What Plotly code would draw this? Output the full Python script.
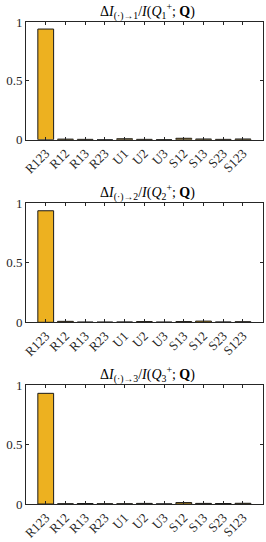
import plotly.graph_objects as go

labels1 = ["R123", "R12", "R13", "R23", "U1", "U2", "U3", "S12", "S13", "S23", "S123"]
values1 = [0.94, 0.005, 0.003, 0.0, 0.008, 0.003, 0.001, 0.012, 0.006, 0.003, 0.006]

labels2 = ["R123", "R12", "R13", "R23", "U1", "U2", "U3", "S13", "S12", "S23", "S123"]
values2 = [0.935, 0.008, 0.002, 0.002, 0.003, 0.006, 0.002, 0.006, 0.010, 0.003, 0.005]

labels3 = ["R123", "R12", "R13", "R23", "U1", "U2", "U3", "S12", "S13", "S23", "S123"]
values3 = [0.93, 0.002, 0.004, 0.002, 0.002, 0.005, 0.001, 0.012, 0.005, 0.004, 0.006]

titles = [
    "Δ<i>I</i><sub>(·)→1</sub>/<i>I</i>(<i>Q</i><sub>1</sub><sup>+</sup>; <b>Q</b>)",
    "Δ<i>I</i><sub>(·)→2</sub>/<i>I</i>(<i>Q</i><sub>2</sub><sup>+</sup>; <b>Q</b>)",
    "Δ<i>I</i><sub>(·)→3</sub>/<i>I</i>(<i>Q</i><sub>3</sub><sup>+</sup>; <b>Q</b>)",
]

W, H = 266, 542
xd = [26 / W, 262.7 / W]
ydoms = [(22, 139.7), (203, 322.3), (385, 504)]

FONT = "Liberation Serif"
AX = "#262626"

fig = go.Figure()
panels = [(labels1, values1), (labels2, values2), (labels3, values3)]
for i, (lab, val) in enumerate(panels):
    n = i + 1
    xa = "x" if n == 1 else f"x{n}"
    ya = "y" if n == 1 else f"y{n}"
    cats = list(range(len(lab)))
    fig.add_trace(go.Bar(
        x=cats, y=val, xaxis=xa, yaxis=ya, width=0.8,
        marker=dict(color="#EDB120", line=dict(color="#1a1a1a", width=1)),
        showlegend=False, hoverinfo="skip",
    ))
    top, bot = ydoms[i]
    xkey = "xaxis" if n == 1 else f"xaxis{n}"
    ykey = "yaxis" if n == 1 else f"yaxis{n}"
    fig.layout[xkey] = dict(
        domain=xd, anchor=ya, range=[-1, 11], automargin=False,
        tickmode="array", tickvals=cats, ticktext=lab, tickangle=-45,
        ticks="inside", ticklen=3, tickcolor=AX,
        showline=True, linecolor=AX, linewidth=1, mirror="ticks",
        showgrid=False, zeroline=False,
        tickfont=dict(family=FONT, size=13, color="#262626"),
    )
    fig.layout[ykey] = dict(
        domain=[1 - bot / H, 1 - top / H], anchor=xa, range=[0, 1],
        automargin=False,
        tickmode="array", tickvals=[0, 0.5, 1], ticktext=["0", "0.5", "1"],
        ticks="inside", ticklen=3, tickcolor=AX,
        showline=True, linecolor=AX, linewidth=1, mirror="ticks",
        showgrid=False, zeroline=False,
        tickfont=dict(family=FONT, size=13, color="#262626"),
    )
    fig.add_annotation(
        text=titles[i], xref="paper", yref="paper",
        x=(xd[0] + xd[1]) / 2 + 0.01, y=1 - (top + 2) / H,
        xanchor="center", yanchor="bottom", showarrow=False,
        font=dict(family=FONT, size=14, color="#000000"),
    )

fig.update_layout(
    width=W, height=H, margin=dict(l=0, r=0, t=0, b=0, autoexpand=False),
    paper_bgcolor="white", plot_bgcolor="white", bargap=0.2,
)

fig.write_html(
    "out.html",
    config={"displayModeBar": False, "staticPlot": True},
    post_script="document.body.style.margin='0';document.body.style.overflow='hidden';",
)
